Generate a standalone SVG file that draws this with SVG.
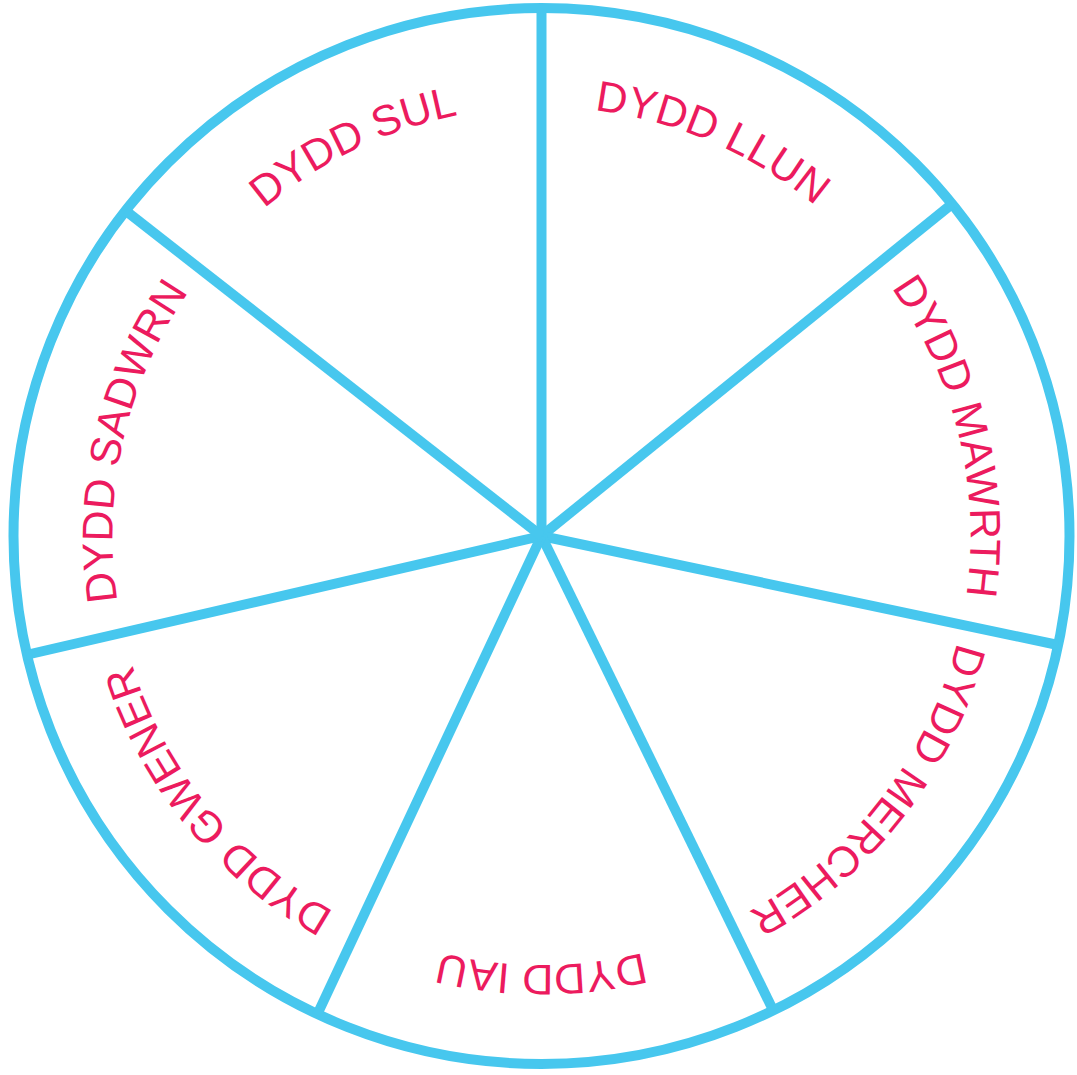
<svg xmlns="http://www.w3.org/2000/svg" xmlns:xlink="http://www.w3.org/1999/xlink" width="1077" height="1075" viewBox="0 0 1077 1075">
<style>
.rim{fill:none;stroke:#47C7EE;stroke-width:10}
.spoke{stroke:#47C7EE;stroke-width:10;stroke-linecap:butt}
.lbl{font-family:"Liberation Sans",Arial,sans-serif;font-size:43px;fill:#EC1B5E}
</style>
<defs>
<path id="ring" d="M 541.5,107 A 429 429 0 1 1 541.5,965 A 429 429 0 1 1 541.5,107"/>
</defs>
<rect width="1077" height="1075" fill="#ffffff"/>
<g id="wheel">
<circle class="rim" cx="541.5" cy="536" r="528"/>
</g>
<g id="connectors">
<line class="spoke" x1="541.5" y1="536" x2="541.5" y2="8"/>
<line class="spoke" x1="541.5" y1="536" x2="952" y2="204"/>
<line class="spoke" x1="541.5" y1="536" x2="1058" y2="645"/>
<line class="spoke" x1="541.5" y1="536" x2="774" y2="1012"/>
<line class="spoke" x1="541.5" y1="536" x2="317" y2="1015"/>
<line class="spoke" x1="541.5" y1="536" x2="26" y2="655"/>
<line class="spoke" x1="541.5" y1="536" x2="126" y2="211"/>
</g>
<g id="llun"><text class="lbl" text-anchor="middle"><textPath xlink:href="#ring" href="#ring" startOffset="6.5%">DYDD LLUN</textPath></text></g>
<g id="mawrth"><text class="lbl" text-anchor="middle"><textPath xlink:href="#ring" href="#ring" startOffset="21.2%">DYDD MAWRTH</textPath></text></g>
<g id="mercher"><text class="lbl" text-anchor="middle"><textPath xlink:href="#ring" href="#ring" startOffset="35.5%">DYDD MERCHER</textPath></text></g>
<g id="iau"><text class="lbl" text-anchor="middle"><textPath xlink:href="#ring" href="#ring" startOffset="50%">DYDD IAU</textPath></text></g>
<g id="gwener"><text class="lbl" text-anchor="middle"><textPath xlink:href="#ring" href="#ring" startOffset="64.1%">DYDD GWENER</textPath></text></g>
<g id="sadwrn"><text class="lbl" text-anchor="middle"><textPath xlink:href="#ring" href="#ring" startOffset="78.6%">DYDD SADWRN</textPath></text></g>
<g id="sul"><text class="lbl" text-anchor="middle"><textPath xlink:href="#ring" href="#ring" startOffset="92.85%">DYDD SUL</textPath></text></g>
</svg>
